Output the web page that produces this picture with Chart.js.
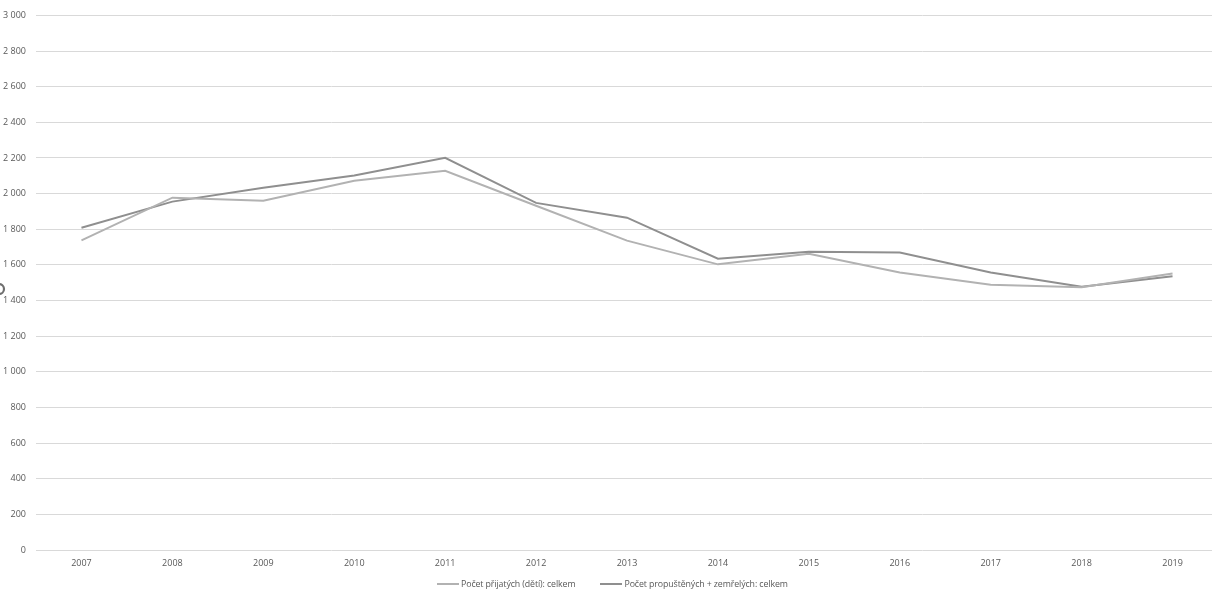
<!DOCTYPE html>
<html>
<head>
<meta charset="utf-8">
<script src="https://cdn.jsdelivr.net/npm/chart.js@4/dist/chart.umd.min.js"></script>
<style>
  html, body { margin: 0; padding: 0; background: #fff; overflow: hidden; }
  #wrap { width: 1218px; height: 591px; position: relative; }
  #legend {
    position: absolute; left: 437px; top: 578px; height: 12px;
    font: 8.8px "Open Sans", "Noto Sans", sans-serif; color: #595959;
    white-space: nowrap; line-height: 12px; letter-spacing: -0.1px;
  }
  .item { display: inline-block; margin-right: 25px; }
  .mark { display: inline-block; width: 22px; height: 2px; vertical-align: middle; margin-right: 2px; position: relative; top: -1px; }
</style>
</head>
<body>
<div id="wrap"><canvas id="c"></canvas><div id="legend"></div></div>
<script>
const years = ['2007', '2008', '2009', '2010', '2011', '2012', '2013', '2014', '2015', '2016', '2017', '2018', '2019'];
const prijati = [1738, 1977, 1960, 2072, 2128, 1932, 1736, 1603, 1663, 1557, 1489, 1474, 1552];
const propusteni = [1808, 1955, 2033, 2102, 2201, 1948, 1865, 1635, 1673, 1669, 1557, 1478, 1536];
const seriesNames = ['Počet přijatých (dětí): celkem', 'Počet propuštěných + zemřelých: celkem'];
const seriesColors = ['#b2b2b2', '#8f8f8f'];

const FONT = '"Open Sans", "Noto Sans", sans-serif';

function fmtTick(v) {
  return String(v).replace(/\B(?=(\d{3})+(?!\d))/g, ' ');
}

// the small ring cut off at the left edge
const ringMark = {
  id: 'ringMark',
  afterDraw(chart) {
    const ctx = chart.ctx;
    ctx.save();
    ctx.strokeStyle = '#6e6e6e';
    ctx.lineWidth = 2.2;
    ctx.beginPath();
    ctx.arc(-1, 289, 5, 0, Math.PI * 2);
    ctx.stroke();
    ctx.restore();
  }
};

const chart = new Chart(document.getElementById('c'), {
  type: 'line',
  data: {
    labels: years,
    datasets: [prijati, propusteni].map((d, i) => ({
      label: seriesNames[i],
      data: d,
      borderColor: seriesColors[i],
      backgroundColor: seriesColors[i],
      borderWidth: 2,
      pointRadius: 0,
      tension: 0,
    })),
  },
  options: {
    responsive: true,
    maintainAspectRatio: false,
    animation: false,
    layout: { padding: { top: 9, left: 0, right: 0, bottom: 0 } },
    plugins: {
      legend: { display: false },
      tooltip: { enabled: false },
    },
    scales: {
      x: {
        offset: true,
        grid: { display: false, drawTicks: false },
        border: { display: false },
        afterFit: s => { s.height = 41; },
        ticks: {
          color: '#595959',
          font: { family: FONT, size: 9 },
          padding: 8,
          maxRotation: 0,
        },
      },
      y: {
        min: 0,
        max: 3000,
        grid: { color: '#d9d9d9', drawTicks: false },
        border: { display: false },
        afterFit: s => { s.width = 36; },
        ticks: {
          stepSize: 200,
          color: '#595959',
          font: { family: FONT, size: 9 },
          padding: 10,
          callback: v => fmtTick(v),
        },
      },
    },
  },
  plugins: [ringMark],
});

document.getElementById('legend').innerHTML = chart.data.datasets.map(ds =>
  `<span class="item"><span class="mark" style="background:${ds.borderColor}"></span>${ds.label}</span>`
).join('');
</script>
</body>
</html>
